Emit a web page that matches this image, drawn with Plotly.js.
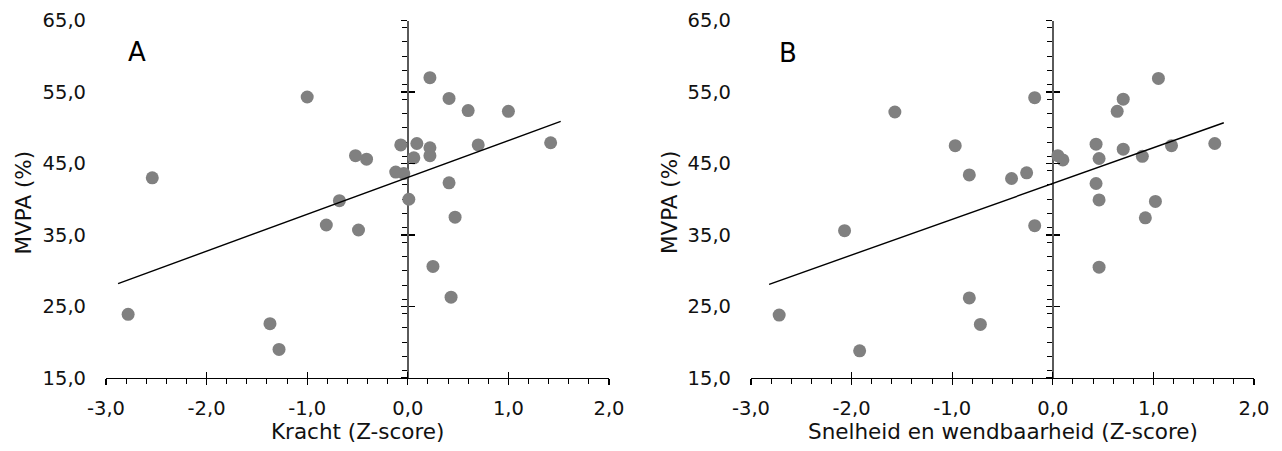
<!DOCTYPE html>
<html>
<head>
<meta charset="utf-8">
<script src="https://cdn.plot.ly/plotly-3.0.1.min.js"></script>
<style>
  html, body { margin: 0; padding: 0; background: #fff; }
  #chart { width: 1282px; height: 451px; }
</style>
</head>
<body>
<div id="chart"></div>
<script>
// Panel A: strength (Z-score) vs. MVPA (%)
const kracht = [0.22, -1.00, 0.41, 0.60, 1.00, 1.42, -0.07, 0.09, 0.22, 0.22, 0.06, 0.70, -0.52, -0.41,
                -0.12, -0.04, -2.54, 0.41, -0.68, 0.01, 0.47, -0.81, -0.49, 0.25, 0.43, -2.78, -1.37, -1.28];
const mvpaA = [57.0, 54.3, 54.1, 52.4, 52.3, 47.9, 47.6, 47.8, 47.2, 46.1, 45.8, 47.6, 46.1, 45.6,
               43.8, 43.6, 43.0, 42.3, 39.8, 40.0, 37.5, 36.4, 35.7, 30.6, 26.3, 23.9, 22.6, 19.0];

// Panel B: speed and agility (Z-score) vs. MVPA (%)
const snelheid = [1.05, -0.18, 0.70, -1.57, 0.64, -0.97, 0.43, 0.70, 1.18, 1.61, 0.05, 0.10, 0.46, 0.89,
                  -0.83, -0.41, -0.26, 0.43, 0.46, 1.02, 0.92, -0.18, -2.07, 0.46, -0.83, -2.72, -0.72, -1.92];
const mvpaB = [56.9, 54.2, 54.0, 52.2, 52.3, 47.5, 47.7, 47.0, 47.5, 47.8, 46.1, 45.5, 45.7, 46.0,
               43.4, 42.9, 43.7, 42.2, 39.9, 39.7, 37.4, 36.3, 35.6, 30.5, 26.2, 23.8, 22.5, 18.8];

// Linear trend lines (end points)
const trendAx = [-2.88, 1.52];
const trendAy = [28.2, 50.9];
const trendBx = [-2.82, 1.70];
const trendBy = [28.1, 50.7];

// Tick labels (Dutch decimal comma)
const xTickVals = [-3, -2, -1, 0, 1, 2];
const xTickText = ['-3,0', '-2,0', '-1,0', '0,0', '1,0', '2,0'];
const yTickVals = [15, 25, 35, 45, 55, 65];
const yTickText = ['15,0', '25,0', '35,0', '45,0', '55,0', '65,0'];

const W = 1282, H = 451;
const FONT = 'DejaVu Sans, Verdana, sans-serif';
const xRange = [-3, 2];
const yRange = [15, 65];
const domA = [106 / W, 609 / W];
const domB = [751 / W, 1254 / W];
const domY = [(H - 378) / H, (H - 20.5) / H];

// paper position where x = 0 falls inside a panel
function zeroPos(dom) {
  return dom[0] + (0 - xRange[0]) / (xRange[1] - xRange[0]) * (dom[1] - dom[0]);
}

const tickFont = { family: FONT, size: 19.5, color: '#111' };

// bottom axis: line, outward major + minor ticks, labels
function mainX(dom, anchor) {
  return {
    domain: dom, anchor: anchor, range: xRange, fixedrange: true,
    tickmode: 'array', tickvals: xTickVals, ticktext: xTickText,
    ticks: 'outside', ticklen: 6, tickwidth: 1.3, tickcolor: '#000',
    minor: { ticks: 'outside', ticklen: 5, tickwidth: 1, tickcolor: '#000', dtick: 0.2 },
    showline: true, linecolor: '#000', linewidth: 1.3,
    showgrid: false, zeroline: false,
    tickfont: tickFont, ticklabelstandoff: 6
  };
}
// upward half of the crossing major ticks on the bottom axis
function crossX(base, anchor) {
  return {
    overlaying: base, anchor: anchor, range: xRange, fixedrange: true,
    tickmode: 'array', tickvals: xTickVals,
    ticks: 'inside', ticklen: 6, tickwidth: 1.3, tickcolor: '#000',
    showticklabels: false, showline: false, showgrid: false, zeroline: false
  };
}
// vertical spine at x = 0 with outward major + minor ticks
function spineY(dom) {
  return {
    domain: domY, anchor: 'free', position: zeroPos(dom), side: 'left',
    range: yRange, fixedrange: true,
    tickmode: 'array', tickvals: yTickVals,
    ticks: 'outside', ticklen: 6, tickwidth: 1.3, tickcolor: '#000',
    minor: { ticks: 'outside', ticklen: 5, tickwidth: 1, tickcolor: '#000', dtick: 2 },
    showline: true, linecolor: '#5a5a5a', linewidth: 2,
    showticklabels: false, showgrid: false, zeroline: false, layer: 'below traces'
  };
}
// rightward half of the crossing major ticks on the spine
function crossY(base, dom) {
  return {
    overlaying: base, anchor: 'free', position: zeroPos(dom), side: 'left',
    range: yRange, fixedrange: true,
    tickmode: 'array', tickvals: yTickVals,
    ticks: 'inside', ticklen: 6, tickwidth: 1.3, tickcolor: '#000',
    showticklabels: false, showline: false, showgrid: false, zeroline: false
  };
}
// value labels along the left edge of the plot
function labelY(base, anchor) {
  return {
    overlaying: base, anchor: anchor, side: 'left', range: yRange, fixedrange: true,
    tickmode: 'array', tickvals: yTickVals, ticktext: yTickText,
    ticks: '', showline: false, showgrid: false, zeroline: false,
    tickfont: tickFont, ticklabelstandoff: 19
  };
}

const dotStyle = { color: 'rgb(128,128,128)', size: 13, line: { width: 0 } };
const trendStyle = { color: '#000', width: 1.4 };

const traces = [
  { type: 'scatter', mode: 'markers', x: kracht, y: mvpaA, xaxis: 'x', yaxis: 'y', marker: dotStyle },
  { type: 'scatter', mode: 'lines', x: trendAx, y: trendAy, xaxis: 'x2', yaxis: 'y2', line: trendStyle },
  { type: 'scatter', mode: 'markers', x: [], y: [], xaxis: 'x', yaxis: 'y3', hoverinfo: 'skip' },
  { type: 'scatter', mode: 'markers', x: snelheid, y: mvpaB, xaxis: 'x3', yaxis: 'y4', marker: dotStyle },
  { type: 'scatter', mode: 'lines', x: trendBx, y: trendBy, xaxis: 'x4', yaxis: 'y5', line: trendStyle },
  { type: 'scatter', mode: 'markers', x: [], y: [], xaxis: 'x3', yaxis: 'y6', hoverinfo: 'skip' }
];

const titleFont = { family: FONT, size: 21.5, color: '#111' };

const layout = {
  width: W, height: H,
  margin: { l: 0, r: 0, t: 0, b: 0 },
  paper_bgcolor: '#fff', plot_bgcolor: 'rgba(0,0,0,0)',
  showlegend: false,
  xaxis: mainX(domA, 'y'),
  yaxis: spineY(domA),
  xaxis2: crossX('x', 'y2'),
  yaxis2: crossY('y', domA),
  yaxis3: labelY('y', 'x'),
  xaxis3: mainX(domB, 'y4'),
  yaxis4: spineY(domB),
  xaxis4: crossX('x3', 'y5'),
  yaxis5: crossY('y4', domB),
  yaxis6: labelY('y4', 'x3'),
  annotations: [
    { text: 'A', xref: 'x', yref: 'y', x: -2.69, y: 60.6, showarrow: false,
      xanchor: 'center', yanchor: 'middle', font: { family: FONT, size: 26, color: '#000' } },
    { text: 'B', xref: 'x3', yref: 'y4', x: -2.63, y: 60.5, showarrow: false,
      xanchor: 'center', yanchor: 'middle', font: { family: FONT, size: 26, color: '#000' } },
    { text: 'Kracht (Z-score)', xref: 'x domain', yref: 'y domain', x: 0.5, y: -0.151,
      showarrow: false, xanchor: 'center', yanchor: 'middle', font: titleFont },
    { text: 'Snelheid en wendbaarheid (Z-score)', xref: 'x3 domain', yref: 'y4 domain', x: 0.5, y: -0.151,
      showarrow: false, xanchor: 'center', yanchor: 'middle', font: titleFont },
    { text: 'MVPA (%)', xref: 'paper', yref: 'y domain', x: 23.3 / W, y: 0.492, textangle: -90,
      showarrow: false, xanchor: 'center', yanchor: 'middle', font: titleFont },
    { text: 'MVPA (%)', xref: 'paper', yref: 'y4 domain', x: 669 / W, y: 0.492, textangle: -90,
      showarrow: false, xanchor: 'center', yanchor: 'middle', font: titleFont }
  ]
};

Plotly.newPlot('chart', traces, layout, { displayModeBar: false, staticPlot: true });
</script>
</body>
</html>
